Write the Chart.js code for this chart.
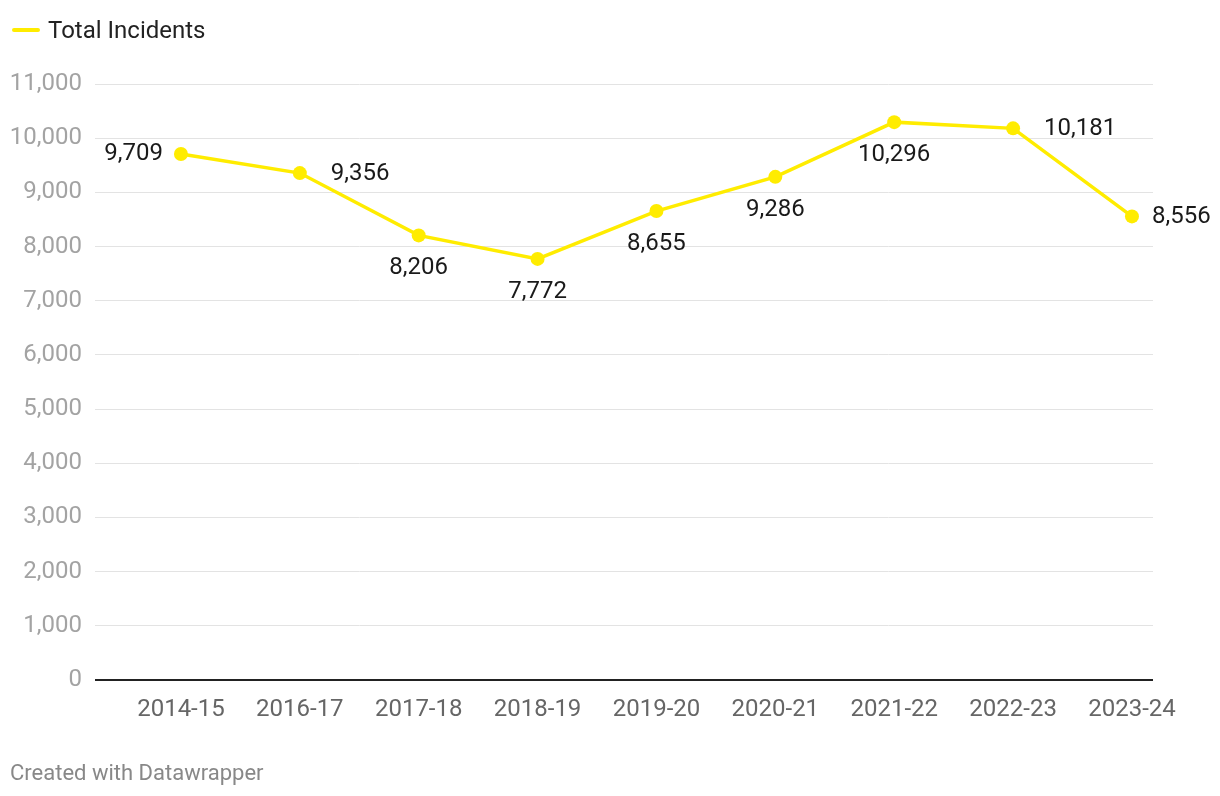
<!DOCTYPE html>
<html>
<head>
<meta charset="utf-8">
<script src="https://cdn.jsdelivr.net/npm/chart.js@4/dist/chart.umd.min.js"></script>
<style>
    body { margin: 0; background: #fff; font-family: Roboto, sans-serif; }
    #wrap { position: relative; width: 1220px; height: 796px; }
    #legend { position: absolute; left: 12px; top: 16px; font-size: 24px; color: #222; display: flex; align-items: center; }
    #legend .swatch { display: inline-block; width: 28px; height: 4px; background: #ffec00; margin-right: 8px; border-radius: 2px; }
    #footer { position: absolute; left: 10px; top: 760px; font-size: 22px; color: #888; }
</style>
</head>
<body>
<div id="wrap">
    <canvas id="incidentsChart" width="1220" height="796"></canvas>
    <div id="legend"><span class="swatch"></span>Total Incidents</div>
    <div id="footer">Created with Datawrapper</div>
</div>
<script>
const periods = ['2014-15', '2016-17', '2017-18', '2018-19', '2019-20', '2020-21', '2021-22', '2022-23', '2023-24'];
const totalIncidents = [9709, 9356, 8206, 7772, 8655, 9286, 10296, 10181, 8556];
// where each value label sits relative to its point
const labelSide = ['left', 'right', 'below', 'below', 'below', 'below', 'below', 'right', 'right'];

const yellow = '#ffec00';

// Draw value labels next to points
const valueLabels = {
    id: 'valueLabels',
    afterDatasetsDraw(chart) {
        const ctx = chart.ctx;
        const meta = chart.getDatasetMeta(0);
        ctx.save();
        ctx.font = '24px Roboto, sans-serif';
        ctx.fillStyle = '#1a1a1a';
        ctx.textBaseline = 'middle';
        meta.data.forEach((pt, i) => {
            const text = totalIncidents[i].toLocaleString('en-US');
            const side = labelSide[i];
            if (side === 'left') {
                ctx.textAlign = 'right';
                ctx.fillText(text, pt.x - 18, pt.y);
            } else if (side === 'right') {
                ctx.textAlign = 'left';
                ctx.fillText(text, pt.x + (i === totalIncidents.length - 1 ? 20 : 31), pt.y + 1);
            } else {
                ctx.textAlign = 'center';
                ctx.fillText(text, pt.x, pt.y + 33);
            }
        });
        ctx.restore();
    }
};

document.addEventListener('DOMContentLoaded', () => {
    const ctx = document.getElementById('incidentsChart').getContext('2d');

    window.incidentsChart = new Chart(ctx, {
        type: 'line',
        data: {
            datasets: [{
                label: 'Total Incidents',
                data: totalIncidents.map((v, i) => ({ x: i, y: v })),
                borderColor: yellow,
                backgroundColor: yellow,
                borderWidth: 3.5,
                pointRadius: 7,
                pointBorderWidth: 0,
                tension: 0
            }]
        },
        options: {
            responsive: false,
            animation: false,
            layout: { padding: { left: 0, right: 67, top: 84, bottom: 0 } },
            plugins: {
                legend: { display: false },
                tooltip: { enabled: false }
            },
            scales: {
                x: {
                    type: 'linear',
                    min: -0.723,
                    max: 8.177,
                    grid: { display: false },
                    border: { display: false },
                    afterFit: (scale) => { scale.height = 116; },
                    ticks: {
                        stepSize: 1,
                        includeBounds: false,
                        autoSkip: false,
                        maxRotation: 0,
                        padding: 8,
                        color: '#666',
                        font: { family: 'Roboto', size: 24 },
                        callback: (v) => periods[v] ?? ''
                    }
                },
                y: {
                    min: 0,
                    max: 11000,
                    afterFit: (scale) => { scale.width = 95; },
                    border: { display: false },
                    grid: {
                        drawTicks: false,
                        color: (c) => c.tick && c.tick.value === 0 ? '#222' : '#e3e3e3',
                        lineWidth: (c) => c.tick && c.tick.value === 0 ? 2 : 1
                    },
                    ticks: {
                        stepSize: 1000,
                        padding: 13,
                        color: '#a3a3a3',
                        font: { family: 'Roboto', size: 24 },
                        callback: (v) => v.toLocaleString('en-US')
                    }
                }
            }
        },
        plugins: [valueLabels]
    });
});
</script>
</body>
</html>
